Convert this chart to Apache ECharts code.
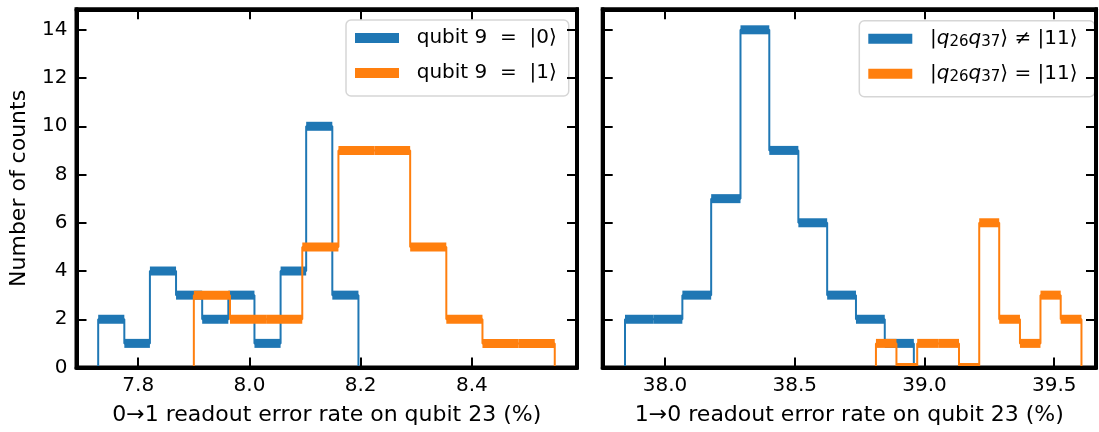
<!DOCTYPE html>
<html>
<head>
<meta charset="utf-8">
<script src="https://cdn.jsdelivr.net/npm/echarts@6/dist/echarts.min.js"></script>
<style>
html,body{margin:0;padding:0;background:#fff;}
#chart{width:1099px;height:432px;}
</style>
</head>
<body>
<div id="chart"></div>
<script>
// ---------- data ----------
// Left panel: 0->1 readout error rate on qubit 23 (%)
const leftBlueName = 'qubit 9  = |0⟩';
const leftOrangeName = 'qubit 9  = |1⟩';
const leftBlueEdges = [7.728, 7.775, 7.821, 7.868, 7.915, 7.962, 8.009, 8.056, 8.102, 8.149, 8.196];
const leftBlueCounts = [2, 1, 4, 3, 2, 3, 1, 4, 10, 3];
const leftOrangeEdges = [7.900, 7.965, 8.030, 8.095, 8.160, 8.225, 8.289, 8.354, 8.419, 8.484, 8.549];
const leftOrangeCounts = [3, 2, 2, 5, 9, 9, 5, 2, 1, 1];

// Right panel: 1->0 readout error rate on qubit 23 (%)
const rightBlueName = 'neq11';
const rightOrangeName = 'eq11';
const rightBlueEdges = [37.846, 37.955, 38.067, 38.178, 38.291, 38.402, 38.514, 38.625, 38.736, 38.847, 38.959];
const rightBlueCounts = [2, 2, 3, 7, 14, 9, 6, 3, 2, 1];
const rightOrangeEdges = [38.813, 38.892, 38.972, 39.053, 39.133, 39.211, 39.288, 39.368, 39.447, 39.525, 39.605];
const rightOrangeCounts = [1, 0, 1, 1, 0, 6, 2, 1, 3, 2];

// Tick labels
const leftTicks = [7.8, 8.0, 8.2, 8.4];
const rightTicks = [38.0, 38.5, 39.0, 39.5];
const yTicks = [0, 2, 4, 6, 8, 10, 12, 14];

const leftXRange = [7.689, 8.589];
const rightXRange = [37.760, 39.661];
const yRange = [0, 14.85];

const BLUE = '#1f77b4';
const ORANGE = '#ff7f0e';
const FONT = 'DejaVu Sans';

// ---------- build ----------
function stepData(edges, counts) {
  const d = [[edges[0], 0]];
  for (let i = 0; i < counts.length; i++) d.push([edges[i], counts[i]]);
  d.push([edges[edges.length - 1], 0]);
  return d;
}
function barData(edges, counts) {
  return counts.map((c, i) => [edges[i], edges[i + 1], c]);
}
function stepSeries(id, xi, yi, edges, counts, color, z) {
  return {
    type: 'line', id: id, name: id + '_step', xAxisIndex: xi, yAxisIndex: yi,
    step: 'end', showSymbol: false, symbol: 'none', animation: false, z: z,
    data: stepData(edges, counts),
    lineStyle: { color: color, width: 2 },
    itemStyle: { color: color }
  };
}
function barSeries(name, xi, yi, edges, counts, color, z) {
  return {
    type: 'custom', name: name, xAxisIndex: xi, yAxisIndex: yi, animation: false, z: z,
    itemStyle: { color: color },
    data: barData(edges, counts),
    encode: { x: [0, 1], y: 2 },
    renderItem: function (params, api) {
      const p0 = api.coord([api.value(0), api.value(2)]);
      const p1 = api.coord([api.value(1), api.value(2)]);
      const cs = params.coordSys;
      const shape = echarts.graphic.clipRectByRect(
        { x: p0[0], y: p0[1] - 4.5, width: p1[0] - p0[0], height: 9 },
        { x: cs.x, y: cs.y, width: cs.width, height: cs.height }
      );
      return shape && {
        type: 'rect',
        shape: shape,
        style: { fill: color }
      };
    }
  };
}

const axisLine = { show: true, onZero: false, lineStyle: { color: '#000', width: 4 } };
function xAx(grid, pos, range, ticks, labels) {
  return {
    type: 'value', gridIndex: grid, position: pos, min: range[0], max: range[1], z: 10,
    axisLine: axisLine,
    axisTick: { show: true, inside: true, length: 10, customValues: ticks, lineStyle: { color: '#000', width: 2 } },
    axisLabel: labels ? { show: true, customValues: ticks, formatter: v => v.toFixed(1), color: '#000', fontSize: 20, fontFamily: FONT, margin: 8 } : { show: false },
    splitLine: { show: false }
  };
}
function yAx(grid, pos, labels) {
  return {
    type: 'value', gridIndex: grid, position: pos, min: yRange[0], max: yRange[1], z: 10,
    axisLine: axisLine,
    axisTick: { show: true, inside: true, length: 10, customValues: yTicks, lineStyle: { color: '#000', width: 2 } },
    axisLabel: labels ? { show: true, customValues: yTicks, color: '#000', fontSize: 20, fontFamily: FONT, margin: 9 } : { show: false },
    splitLine: { show: false }
  };
}

const nameStyle = { color: '#000', fontSize: 22, fontFamily: FONT };
const xAxes = [
  xAx(0, 'bottom', leftXRange, leftTicks, true),
  xAx(0, 'top', leftXRange, leftTicks, false),
  xAx(1, 'bottom', rightXRange, rightTicks, true),
  xAx(1, 'top', rightXRange, rightTicks, false)
];
Object.assign(xAxes[0], { name: '0→1 readout error rate on qubit 23 (%)', nameLocation: 'middle', nameGap: 37, nameTextStyle: nameStyle });
Object.assign(xAxes[2], { name: '1→0 readout error rate on qubit 23 (%)', nameLocation: 'middle', nameGap: 37, nameTextStyle: nameStyle });
const yAxes = [
  yAx(0, 'left', true), yAx(0, 'right', false), yAx(1, 'left', false), yAx(1, 'right', false)
];
Object.assign(yAxes[0], { name: 'Number of counts', nameLocation: 'middle', nameGap: 46, nameTextStyle: nameStyle });

const legendBase = {
  orient: 'vertical', icon: 'rect', itemWidth: 44, itemHeight: 10, itemGap: 13,
  backgroundColor: 'rgba(255,255,255,0.8)', borderColor: '#d6d6d6', borderWidth: 1.5, borderRadius: 5,
  selectedMode: false,
  textStyle: { color: '#000', fontSize: 20, fontFamily: FONT, lineHeight: 22 }
};

const option = {
  backgroundColor: '#fff',
  animation: false,
  grid: [
    { left: 76.5, top: 9.3, width: 500.5, height: 358.2, show: true, borderColor: '#000', borderWidth: 4, backgroundColor: 'transparent', z: 0 },
    { left: 602.7, top: 9.3, width: 493.3, height: 358.2, show: true, borderColor: '#000', borderWidth: 4, backgroundColor: 'transparent', z: 0 }
  ],
  xAxis: xAxes,
  yAxis: yAxes,
  legend: [
    Object.assign({}, legendBase, {
      left: 346, top: 20, padding: [7, 12, 12, 9],
      data: [leftBlueName, leftOrangeName],
      formatter: n => '  ' + n.replace('= |', '=  |')
    }),
    Object.assign({}, legendBase, {
      left: 859.3, top: 20.7, padding: [7, 17, 12, 9],
      data: [rightBlueName, rightOrangeName],
      formatter: n => '  |{i|q}{s|26}{i|q}{s|37}⟩ ' + (n === 'neq11' ? '≠' : '=') + ' |11⟩',
      textStyle: Object.assign({}, legendBase.textStyle, {
        rich: {
          i: { fontStyle: 'italic', fontSize: 20, fontFamily: FONT, color: '#000', lineHeight: 22 },
          s: { fontSize: 15, fontFamily: FONT, color: '#000', verticalAlign: 'bottom', lineHeight: 15, padding: [6, 0, 0, 0] }
        }
      })
    })
  ],
  series: [
    stepSeries('lb', 0, 0, leftBlueEdges, leftBlueCounts, BLUE, 2),
    barSeries(leftBlueName, 0, 0, leftBlueEdges, leftBlueCounts, BLUE, 3),
    stepSeries('lo', 0, 0, leftOrangeEdges, leftOrangeCounts, ORANGE, 4),
    barSeries(leftOrangeName, 0, 0, leftOrangeEdges, leftOrangeCounts, ORANGE, 5),
    stepSeries('rb', 2, 2, rightBlueEdges, rightBlueCounts, BLUE, 2),
    barSeries(rightBlueName, 2, 2, rightBlueEdges, rightBlueCounts, BLUE, 3),
    stepSeries('ro', 2, 2, rightOrangeEdges, rightOrangeCounts, ORANGE, 4),
    barSeries(rightOrangeName, 2, 2, rightOrangeEdges, rightOrangeCounts, ORANGE, 5)
  ]
};

const chart = echarts.init(document.getElementById('chart'), null, { renderer: 'canvas' });
chart.setOption(option);
</script>
</body>
</html>
